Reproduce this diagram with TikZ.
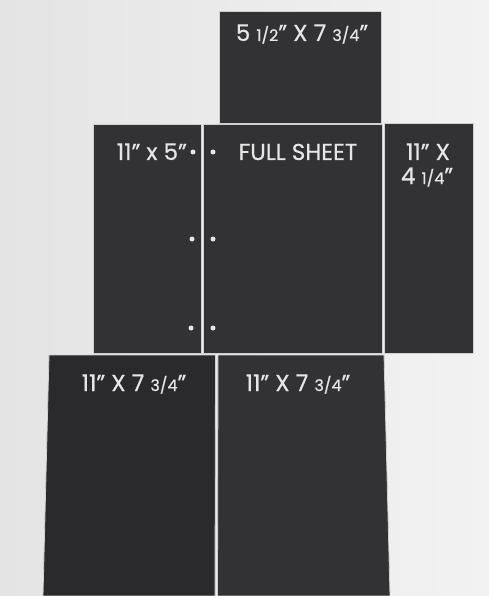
\documentclass[tikz,border=0pt]{standalone}
\usepackage{fontspec}
\setmainfont{Poppins}[FakeBold=0.6]
\definecolor{bgl}{HTML}{E4E4E4}
\definecolor{bgr}{HTML}{F2F2F2}
\definecolor{board}{HTML}{323234}
\definecolor{boardb}{HTML}{2A2A2C}
\definecolor{ink}{HTML}{E6E6E6}
\definecolor{gapc}{HTML}{D0D0D0}
\tikzset{
  piece/.style={fill=board, draw=gapc, line width=0.8pt},
  label/.style={text=ink, font=\fontsize{23}{27}\selectfont, inner sep=0pt, anchor=base},
  hole/.style={circle, fill=ink, minimum size=5pt, inner sep=0pt},
}
\newcommand{\fr}[1]{{\fontsize{16}{18}\selectfont #1}}
\begin{document}
\begin{tikzpicture}[x=1pt,y=-1pt]
\useasboundingbox (0,0) rectangle (489,596);
\shade[left color=bgl, right color=bgr] (0,0) rectangle (489,596);
% pieces
\fill[piece] (219,11) rectangle (381,123);
\fill[piece] (93,124) rectangle (201,353);
\fill[piece] (203,124) rectangle (382,353);
\fill[piece] (384,123) rectangle (473,353);
\fill[piece, fill=boardb] (49,355) -- (215.5,355) -- (215,596) -- (43,596) -- cycle;
\fill[piece] (218,355) -- (384,355) -- (390,596) -- (217.5,596) -- cycle;
% labels
\node[label] (t1) at (302,41) {5 \fr{1/2}” X 7 \fr{3/4}”};
\node[label, anchor=base east] (t2) at (187,160) {11” x 5”};
\node[label] (t3) at (298,160) {FULL SHEET};
\node[label] (t4a) at (428,160) {11” X};
\node[label] (t4b) at (427,184) {4 \fr{1/4}”};
\node[label] (t5) at (134,391) {11” X 7 \fr{3/4}”};
\node[label] (t6) at (298,391) {11” X 7 \fr{3/4}”};
% holes
\node[hole] (h1) at (193,152) {};
\node[hole] (h2) at (192,239) {};
\node[hole] (h3) at (191,328) {};
\node[hole] (h4) at (213,152) {};
\node[hole] (h5) at (213,239) {};
\node[hole] (h6) at (213,328) {};
\end{tikzpicture}
\end{document}
